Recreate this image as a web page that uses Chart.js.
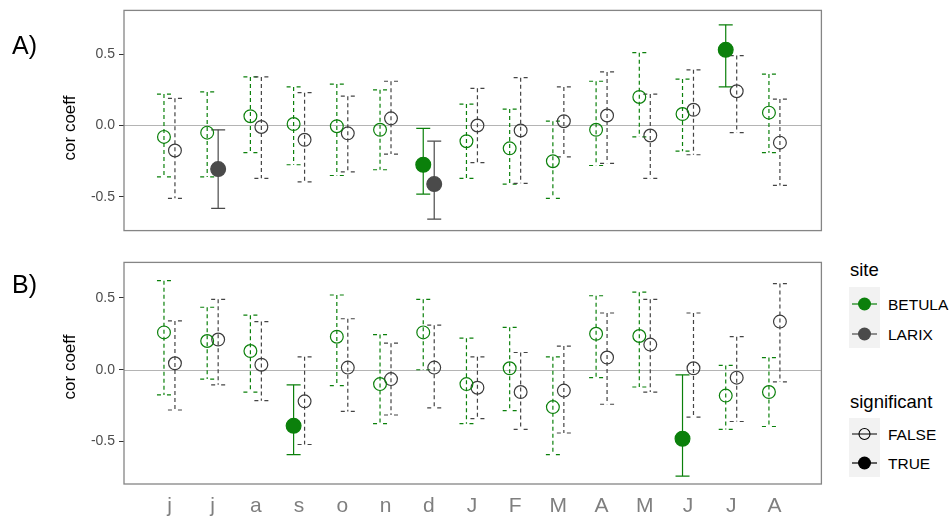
<!DOCTYPE html>
<html>
<head>
<meta charset="utf-8">
<script src="https://cdn.jsdelivr.net/npm/chart.js@4.4.1/dist/chart.umd.min.js"></script>
<style>
  html, body { margin: 0; padding: 0; background: #fff; }
  body { width: 949px; height: 518px; position: relative; overflow: hidden;
         font-family: "Liberation Sans", Arial, sans-serif; }
  canvas { position: absolute; left: 0; }
  .tag { position: absolute; left: 12px; font-size: 25px; color: #000; line-height: 1; transform: translateY(-50%); }
  .ytitle { position: absolute; font-size: 17px; color: #000; white-space: nowrap; line-height: 1;
            transform: translate(-50%, -50%) rotate(-90deg); }
  .lg-title { position: absolute; left: 850px; font-size: 18.5px; color: #000; line-height: 1; transform: translateY(-50%); }
  .lg-text { position: absolute; left: 888px; font-size: 15.5px; color: #000; line-height: 1; transform: translateY(-50%); white-space: nowrap; }
  .lg-key { position: absolute; left: 849px; width: 31px; background: #f2f2f2; }
  svg.keys { position: absolute; left: 0; top: 0; }
</style>
</head>
<body>

<canvas id="panelA" width="830" height="245" style="top:-2px;width:830px;height:245px"></canvas>
<canvas id="panelB" width="830" height="268" style="top:250px;width:830px;height:268px"></canvas>

<div class="tag" style="top:45px">A)</div>
<div class="tag" style="top:284px">B)</div>
<div class="ytitle" style="left:69px;top:128px">cor coeff</div>
<div class="ytitle" style="left:69px;top:367px">cor coeff</div>

<!-- legend -->
<div class="lg-title" style="top:270px">site</div>
<div class="lg-key" style="top:287px;height:61px"></div>
<div class="lg-text" style="top:305px">BETULA</div>
<div class="lg-text" style="top:335px">LARIX</div>
<div class="lg-title" style="top:402px">significant</div>
<div class="lg-key" style="top:418px;height:59px"></div>
<div class="lg-text" style="top:435px">FALSE</div>
<div class="lg-text" style="top:464px">TRUE</div>
<svg class="keys" width="949" height="518">
  <line x1="852" y1="304" x2="877" y2="304" stroke="#0b800b" stroke-width="1.2"/>
  <circle cx="864.5" cy="304" r="6.5" fill="#0b800b"/>
  <line x1="852" y1="334" x2="877" y2="334" stroke="#4a4a4a" stroke-width="1.2"/>
  <circle cx="864.5" cy="334" r="6.5" fill="#4a4a4a"/>
  <line x1="852" y1="434" x2="877" y2="434" stroke="#000" stroke-width="1"/>
  <circle cx="864.5" cy="434" r="5.5" fill="none" stroke="#000" stroke-width="1.1"/>
  <line x1="852" y1="463" x2="877" y2="463" stroke="#000" stroke-width="1.2"/>
  <circle cx="864.5" cy="463" r="6.5" fill="#000"/>
</svg>

<script>
// Month labels, June of the previous year through August of the current year
const months = ['j', 'j', 'a', 's', 'o', 'n', 'd', 'J', 'F', 'M', 'A', 'M', 'J', 'J', 'A'];
const yTicks = [-0.5, 0.0, 0.5];

// Panel A: correlation coefficients with confidence limits
const betulaA_r   = [-0.08, -0.05, 0.065, 0.01, -0.005, -0.03, -0.275, -0.11, -0.16, -0.25, -0.03, 0.20, 0.08, 0.53, 0.09];
const betulaA_lo  = [-0.36, -0.36, -0.19, -0.275, -0.35, -0.31, -0.48, -0.37, -0.41, -0.51, -0.28, -0.08, -0.18, 0.27, -0.19];
const betulaA_hi  = [0.22, 0.235, 0.34, 0.27, 0.29, 0.25, -0.02, 0.15, 0.115, 0.03, 0.31, 0.51, 0.325, 0.705, 0.36];
const betulaA_sig = [0, 0, 0, 0, 0, 0, 1, 0, 0, 0, 0, 0, 0, 1, 0];

const larixA_r   = [-0.175, -0.305, -0.01, -0.10, -0.055, 0.05, -0.41, 0.0, -0.035, 0.03, 0.07, -0.07, 0.11, 0.24, -0.12];
const larixA_lo  = [-0.51, -0.58, -0.37, -0.395, -0.325, -0.20, -0.655, -0.26, -0.405, -0.22, -0.265, -0.37, -0.205, -0.05, -0.42];
const larixA_hi  = [0.19, -0.03, 0.34, 0.23, 0.205, 0.31, -0.11, 0.26, 0.335, 0.27, 0.375, 0.22, 0.39, 0.49, 0.185];
const larixA_sig = [0, 1, 0, 0, 0, 0, 1, 0, 0, 0, 0, 0, 0, 0, 0];

// Panel B
const betulaB_r   = [0.26, 0.20, 0.13, -0.39, 0.23, -0.10, 0.26, -0.10, 0.01, -0.26, 0.25, 0.235, -0.48, -0.18, -0.155];
const betulaB_lo  = [-0.175, -0.065, -0.155, -0.59, -0.11, -0.375, 0.0, -0.375, -0.285, -0.59, -0.055, -0.12, -0.74, -0.415, -0.395];
const betulaB_hi  = [0.62, 0.435, 0.38, -0.105, 0.52, 0.245, 0.49, 0.22, 0.295, 0.09, 0.515, 0.54, -0.035, 0.03, 0.085];
const betulaB_sig = [0, 0, 0, 1, 0, 0, 0, 0, 0, 0, 0, 0, 1, 0, 0];

const larixB_r   = [0.045, 0.21, 0.035, -0.22, 0.015, -0.065, 0.015, -0.125, -0.155, -0.145, 0.085, 0.175, 0.01, -0.055, 0.335];
const larixB_lo  = [-0.28, -0.105, -0.215, -0.52, -0.29, -0.315, -0.265, -0.34, -0.415, -0.44, -0.24, -0.155, -0.33, -0.36, -0.085];
const larixB_hi  = [0.34, 0.49, 0.335, 0.09, 0.355, 0.185, 0.31, 0.09, 0.12, 0.165, 0.395, 0.49, 0.395, 0.23, 0.60];
const larixB_sig = [0, 0, 0, 0, 0, 0, 0, 0, 0, 0, 0, 0, 0, 0, 0];

const FONT = '"Liberation Sans", Arial, sans-serif';
const GREEN = '#0b800b';
const GREY_FILL = '#4a4a4a';
const GREY_LINE = '#3c3c3c';
const DODGE = 0.127;

// Error bars, zero reference line and panel frame
const errorBars = {
  id: 'errorBars',
  beforeDatasetsDraw(chart) {
    const { ctx, chartArea, scales: { x, y } } = chart;
    ctx.save();
    ctx.strokeStyle = '#b4b4b4';
    ctx.lineWidth = 1;
    const y0 = Math.round(y.getPixelForValue(0)) + 0.5;
    ctx.beginPath();
    ctx.moveTo(chartArea.left, y0);
    ctx.lineTo(chartArea.right, y0);
    ctx.stroke();

    const cap = 7;
    chart.data.datasets.forEach(ds => {
      ds.data.forEach((pt, i) => {
        const px = x.getPixelForValue(pt.x);
        const pLo = y.getPixelForValue(ds.errLo[i]);
        const pHi = y.getPixelForValue(ds.errHi[i]);
        const solid = ds.sig[i] === 1;
        ctx.strokeStyle = solid ? ds.barColor : ds.dashColor;
        ctx.lineWidth = 1.2;
        ctx.setLineDash(solid ? [] : [4, 3]);
        ctx.beginPath();
        ctx.moveTo(px, pHi); ctx.lineTo(px, pLo);
        ctx.stroke();
        [pHi, pLo].forEach(py => {
          ctx.beginPath();
          ctx.moveTo(px - cap, py); ctx.lineTo(px, py);
          ctx.moveTo(px + cap, py); ctx.lineTo(px, py);
          ctx.stroke();
        });
      });
    });
    ctx.restore();
  },
  afterDraw(chart) {
    const { ctx, chartArea: a } = chart;
    ctx.save();
    ctx.strokeStyle = '#858585';
    ctx.lineWidth = 1.3;
    ctx.strokeRect(a.left, a.top, a.right - a.left, a.bottom - a.top);
    ctx.restore();
  }
};

function siteDataset(r, lo, hi, sig, offset, fill, stroke, dash) {
  return {
    data: r.map((v, i) => ({ x: i + offset, y: v })),
    errLo: lo, errHi: hi, sig: sig,
    barColor: fill, dashColor: dash,
    showLine: false,
    pointRadius: ctx => sig[ctx.dataIndex] ? 7.4 : 6.4,
    pointBackgroundColor: ctx => sig[ctx.dataIndex] ? fill : 'rgba(0,0,0,0)',
    pointBorderColor: ctx => sig[ctx.dataIndex] ? fill : stroke,
    pointBorderWidth: 1.2,
    pointHoverRadius: 0
  };
}

function makePanel(id, sets, yMin, yMax, showX, padTop, padBottom) {
  return new Chart(document.getElementById(id), {
    type: 'scatter',
    data: { datasets: sets },
    options: {
      responsive: false,
      animation: false,
      devicePixelRatio: 1,
      layout: { padding: { top: padTop, right: 8, bottom: padBottom, left: 0 } },
      plugins: { legend: { display: false }, tooltip: { enabled: false } },
      scales: {
        x: {
          type: 'linear',
          min: -1.052, max: 15.087,
          display: showX,
          afterBuildTicks: s => { s.ticks = months.map((_, i) => ({ value: i })); },
          afterFit: s => { s.height = showX ? 34 : 0; },
          grid: { display: false, drawTicks: false },
          border: { display: false },
          ticks: {
            autoSkip: false, maxRotation: 0, padding: 10,
            color: '#7f7f7f',
            font: { family: FONT, size: 21 },
            callback: v => months[Math.round(v)]
          }
        },
        y: {
          min: yMin, max: yMax,
          afterBuildTicks: s => { s.ticks = yTicks.map(v => ({ value: v })); },
          afterFit: s => { s.width = 124; },
          grid: { drawOnChartArea: false, drawTicks: true, tickLength: 5, color: '#333' },
          border: { display: false },
          ticks: {
            padding: 4,
            color: '#4d4d4d',
            font: { family: FONT, size: 14 },
            callback: v => v.toFixed(1)
          }
        }
      }
    },
    plugins: [errorBars]
  });
}

makePanel('panelA', [
  siteDataset(betulaA_r, betulaA_lo, betulaA_hi, betulaA_sig, -DODGE, GREEN, GREEN, GREEN),
  siteDataset(larixA_r, larixA_lo, larixA_hi, larixA_sig, DODGE, GREY_FILL, GREY_LINE, '#444')
], -0.736, 0.806, false, 12, 3);

makePanel('panelB', [
  siteDataset(betulaB_r, betulaB_lo, betulaB_hi, betulaB_sig, -DODGE, GREEN, GREEN, GREEN),
  siteDataset(larixB_r, larixB_lo, larixB_hi, larixB_sig, DODGE, GREY_FILL, GREY_LINE, '#444')
], -0.795, 0.747, true, 11, 0);
</script>
</body>
</html>
